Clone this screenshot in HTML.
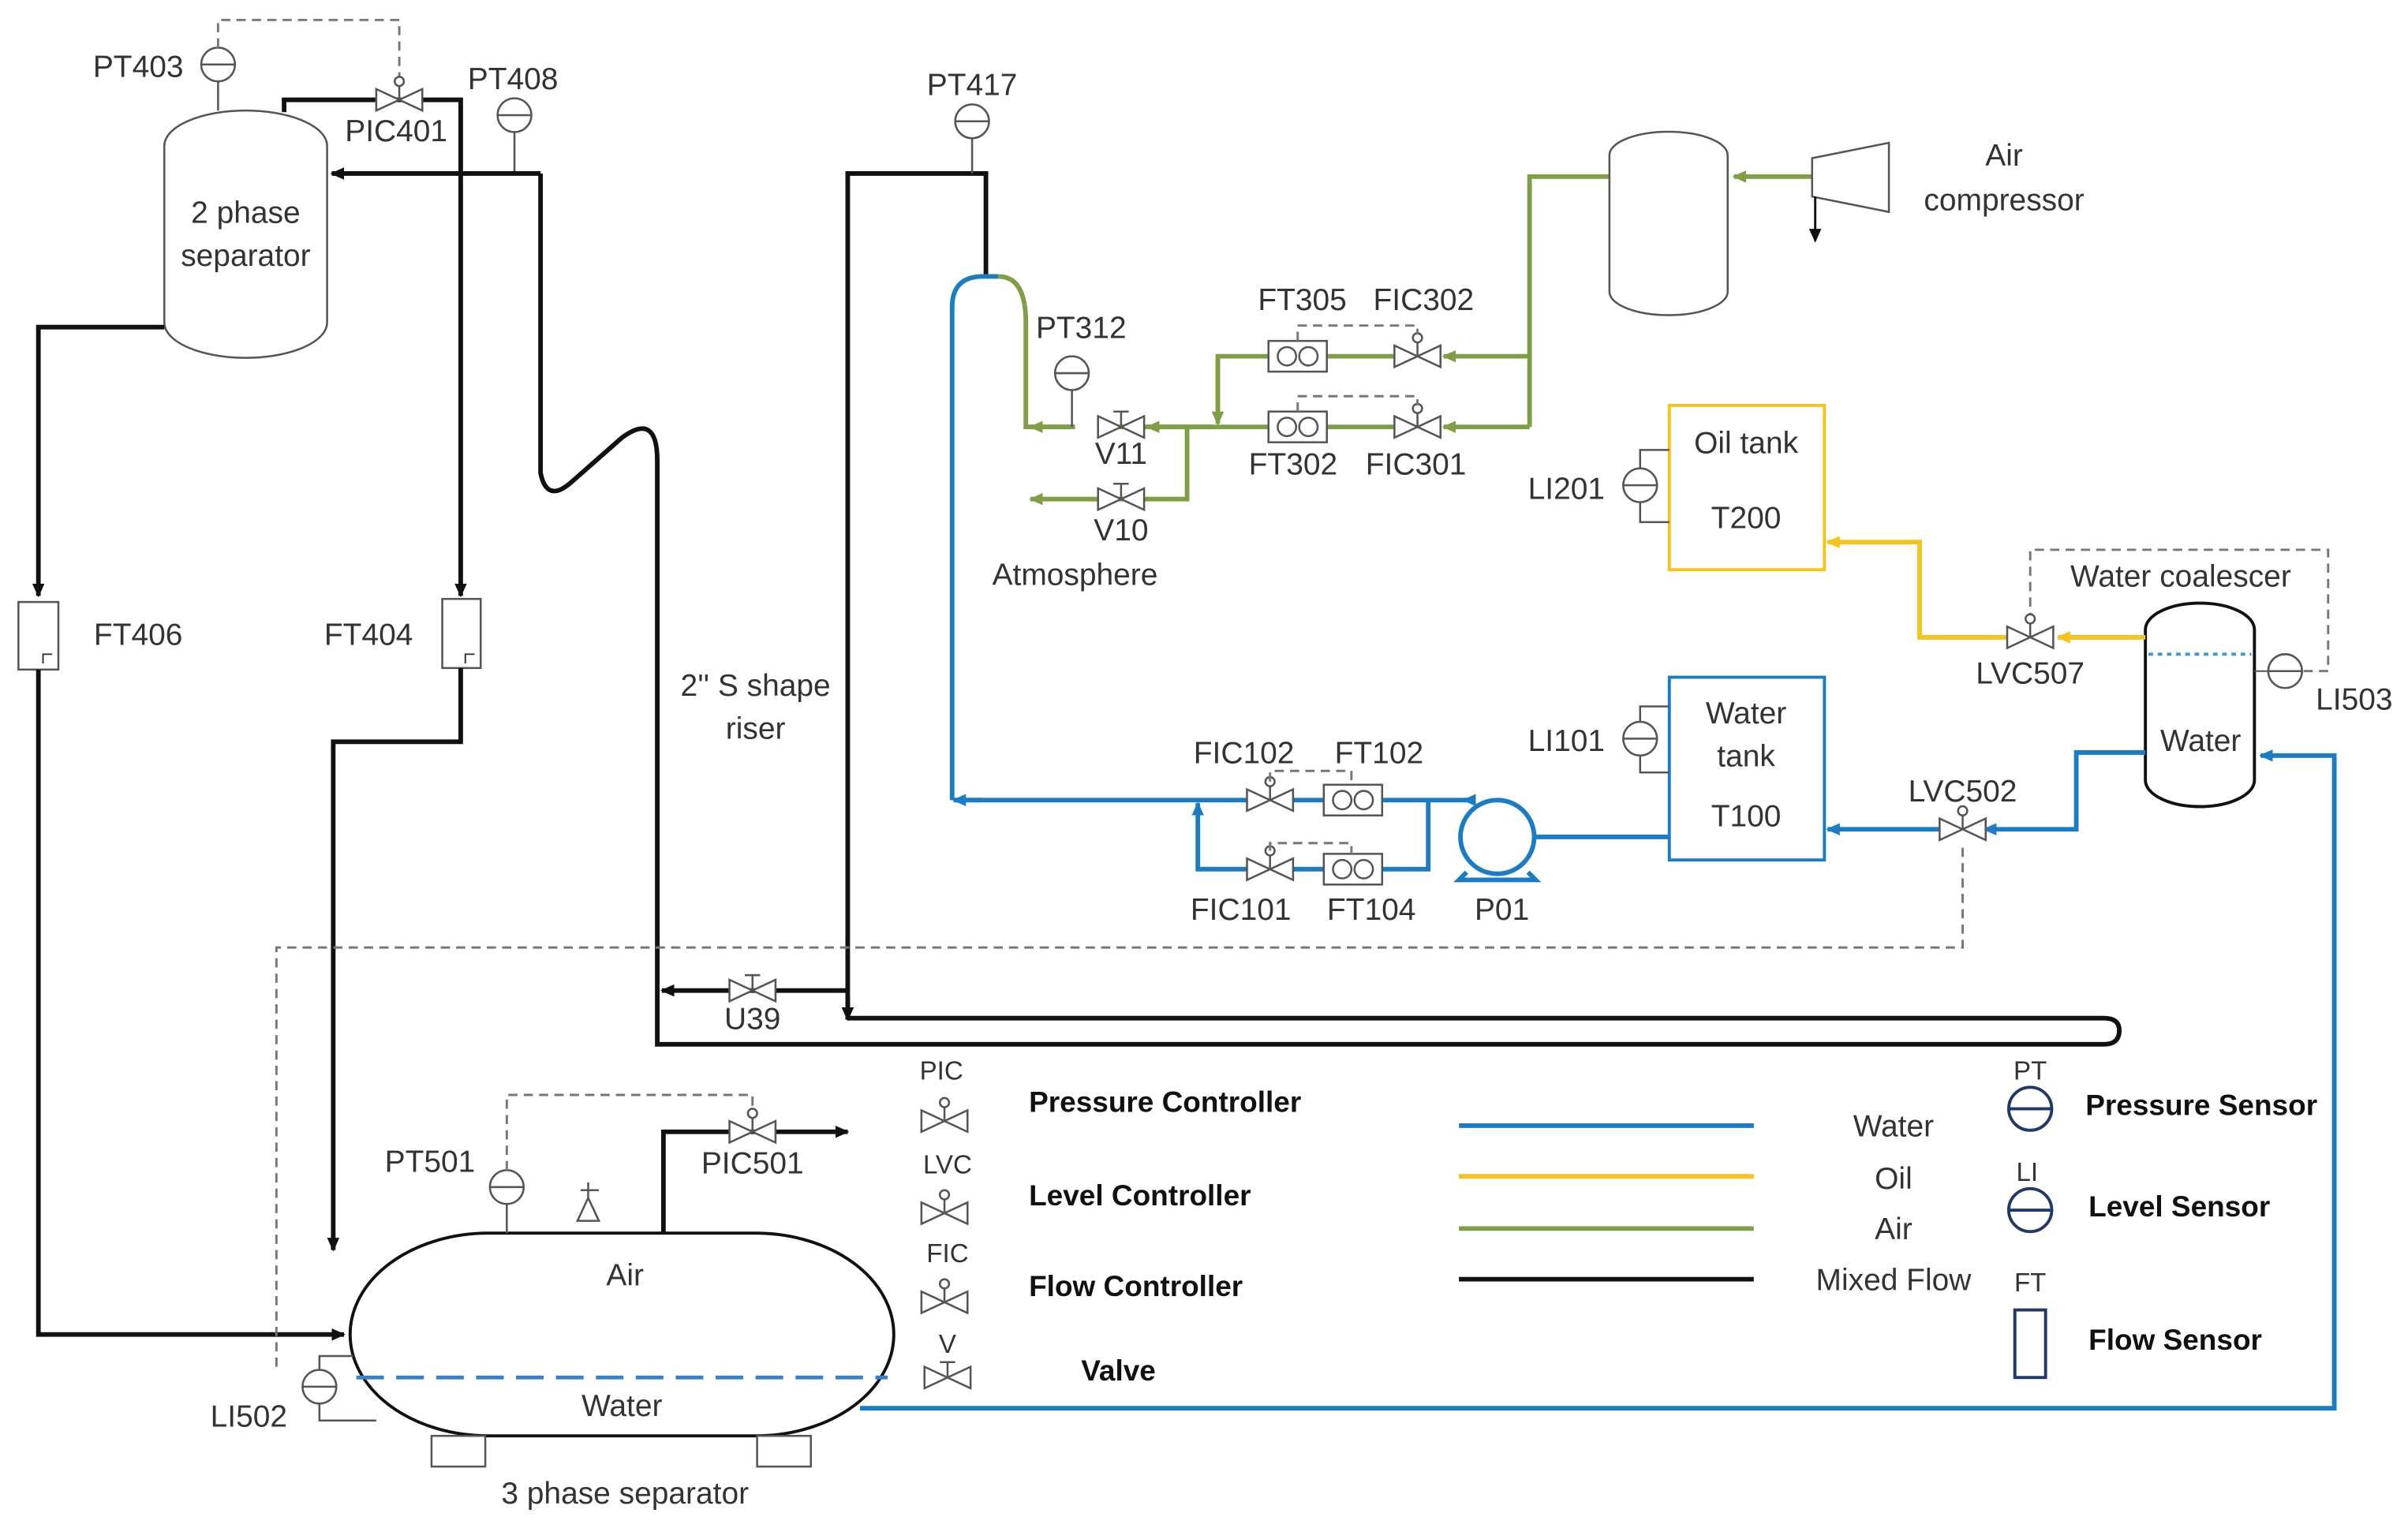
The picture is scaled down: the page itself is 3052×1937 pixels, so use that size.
<!DOCTYPE html>
<html><head><meta charset="utf-8"><style>
html,body{margin:0;padding:0;background:#fff;}
svg{display:block}
text{font-family:"Liberation Sans",sans-serif;font-size:20px;fill:#333;text-anchor:middle;}
.b{font-weight:bold;fill:#111;text-anchor:start;font-size:19px}
.k{fill:none;stroke:#111;stroke-width:3}
.bl{fill:none;stroke:#1a7cc4;stroke-width:3}
.y{fill:none;stroke:#f5c31c;stroke-width:3}
.g{fill:none;stroke:#7f9e46;stroke-width:3}
.d{fill:none;stroke:#777;stroke-width:1.5;stroke-dasharray:6 4}
.th{fill:#fff;stroke:#555;stroke-width:1.3}
</style></head><body>
<svg width="3052" height="1937" viewBox="0 0 1568 995" preserveAspectRatio="none" xmlns="http://www.w3.org/2000/svg">
<defs>
<marker id="ak" markerWidth="10" markerHeight="10" refX="8" refY="5" orient="auto" markerUnits="userSpaceOnUse"><path d="M0,1 L9,5 L0,9z" fill="#111"/></marker>
<marker id="ab" markerWidth="10" markerHeight="10" refX="8" refY="5" orient="auto" markerUnits="userSpaceOnUse"><path d="M0,1 L9,5 L0,9z" fill="#1a7cc4"/></marker>
<marker id="ay" markerWidth="10" markerHeight="10" refX="8" refY="5" orient="auto" markerUnits="userSpaceOnUse"><path d="M0,1 L9,5 L0,9z" fill="#f5c31c"/></marker>
<marker id="ag" markerWidth="10" markerHeight="10" refX="8" refY="5" orient="auto" markerUnits="userSpaceOnUse"><path d="M0,1 L9,5 L0,9z" fill="#7f9e46"/></marker>
<g id="v"><path d="M-15,-7 L15,7 L15,-7 L-15,7z" class="th"/></g>
<g id="cv"><path d="M-15,-7 L15,7 L15,-7 L-15,7z" class="th"/><line x1="0" y1="0" x2="0" y2="-10" stroke="#555" stroke-width="1.3"/><circle cx="0" cy="-12" r="3" class="th"/></g>
<g id="hv"><path d="M-15,-7 L15,7 L15,-7 L-15,7z" class="th"/><line x1="0" y1="0" x2="0" y2="-10" stroke="#555" stroke-width="1.3"/><line x1="-5" y1="-10" x2="5" y2="-10" stroke="#555" stroke-width="1.3"/></g>
<g id="s"><circle r="11" class="th"/><line x1="-11" y1="0" x2="11" y2="0" stroke="#555" stroke-width="1.3"/></g>
<g id="ft"><rect x="-19" y="-10" width="38" height="20" class="th"/><circle cx="-7" cy="0" r="6" class="th"/><circle cx="7" cy="0" r="6" class="th"/></g>
</defs>

<!-- 2 phase separator -->
<path d="M107,95 A53,23 0 0 1 213,95 L213,210 A53,23 0 0 1 107,210 Z" class="th"/>
<text x="160" y="145">2 phase</text><text x="160" y="173">separator</text>
<line x1="142" y1="53" x2="142" y2="72" stroke="#555" stroke-width="1.3"/>
<use href="#s" x="142" y="42"/><text x="90" y="50">PT403</text>
<path d="M142,31 L142,13 L260,13 L260,52" class="d"/>
<path d="M185,73 L185,65 L300,65 L300,388" class="k" marker-end="url(#ak)"/>
<use href="#cv" x="260" y="65"/><text x="258" y="92">PIC401</text>
<use href="#s" x="335" y="75"/><line x1="335" y1="86" x2="335" y2="113" stroke="#555" stroke-width="1.3"/><text x="334" y="58">PT408</text>
<path d="M107,213 L25,213 L25,388" class="k" marker-end="url(#ak)"/>
<rect x="12" y="392" width="26" height="44" class="th"/><path d="M28,432 L28,426 L34,426" stroke="#333" fill="none"/>
<text x="90" y="420">FT406</text>
<rect x="288" y="390" width="25" height="45" class="th"/><path d="M303,432 L303,426 L309,426" stroke="#333" fill="none"/>
<text x="240" y="420">FT404</text>
<path d="M25,436 L25,869 L224,869" class="k" marker-end="url(#ak)"/>
<path d="M300,435 L300,483 L217,483 L217,814" class="k" marker-end="url(#ak)"/>
<path d="M352,113 L216,113" class="k" marker-end="url(#ak)"/>
<path d="M352,113 L352,308 Q356,328 372,314 L405,285 Q428,268 428,300 L428,680 L1370,680 Q1380,680 1380,671 Q1380,663 1370,663 L552,663" class="k"/>
<path d="M552,650 L552,664" class="k" marker-end="url(#ak)"/>
<path d="M552,663 L552,113 L642,113 L642,180" class="k"/>
<path d="M552,645 L431,645" class="k" marker-end="url(#ak)"/>
<use href="#hv" x="490" y="645"/><text x="490" y="670">U39</text>
<text x="492" y="453">2'' S shape</text><text x="492" y="481">riser</text>
<use href="#s" x="633" y="79"/><line x1="633" y1="90" x2="633" y2="113" stroke="#555" stroke-width="1.3"/><text x="633" y="62">PT417</text>

<!-- 3 phase separator -->
<path d="M318,803 L492,803 A90,66 0 0 1 492,935 L318,935 A90,66 0 0 1 318,803 Z" fill="#fff" stroke="#111" stroke-width="2"/>
<rect x="281" y="935" width="35" height="20" class="th"/><rect x="493" y="935" width="35" height="20" class="th"/>
<line x1="232" y1="897" x2="578" y2="897" stroke="#3a80c8" stroke-width="2.5" stroke-dasharray="18 8"/>
<text x="407" y="837">Air</text><text x="405" y="922">Water</text><text x="407" y="979">3 phase separator</text>
<use href="#s" x="330" y="773"/><line x1="330" y1="784" x2="330" y2="803" stroke="#555" stroke-width="1.3"/><text x="280" y="763">PT501</text>
<path d="M330,762 L330,713 L490,713 L490,722" class="d"/>
<path d="M432,803 L432,737 L552,737" class="k" marker-end="url(#ak)"/>
<use href="#cv" x="490" y="737"/><text x="490" y="764">PIC501</text>
<path d="M376,795 L390,795 L383,780z M383,780 L383,770 M378,775 L390,775" class="th"/>
<use href="#s" x="208" y="903"/><path d="M208,892 L208,883 L230,883 M208,914 L208,925 L245,925" stroke="#555" stroke-width="1.3" fill="none"/>
<text x="162" y="929">LI502</text>
<path d="M180,890 L180,617 L1278,617 L1278,552" class="d"/>
<path d="M560,917 L1520,917 L1520,492 L1472,492" class="bl" marker-end="url(#ab)"/>

<!-- Water coalescer -->
<path d="M1397,410 A35,17 0 0 1 1468,410 L1468,508 A35,17 0 0 1 1397,508 Z" fill="#fff" stroke="#111" stroke-width="2"/>
<line x1="1399" y1="426" x2="1466" y2="426" stroke="#3a9ad8" stroke-width="2" stroke-dasharray="3 3"/>
<text x="1433" y="489">Water</text>
<path d="M1322,405 L1322,358 L1516,358 L1516,437 L1500,437" class="d"/>
<text x="1420" y="382">Water coalescer</text>
<use href="#s" x="1488" y="437"/><path d="M1477,437 L1468,437" stroke="#555"/><text x="1533" y="462">LI503</text>
<path d="M1397,415 L1340,415" class="y" marker-end="url(#ay)"/>
<path d="M1310,415 L1250,415 L1250,353 L1190,353" class="y" marker-end="url(#ay)"/>
<use href="#cv" x="1322" y="415"/><text x="1322" y="445">LVC507</text>
<rect x="1087" y="264" width="101" height="107" fill="#fff" stroke="#f5c31c" stroke-width="2"/>
<text x="1137" y="295">Oil tank</text><text x="1137" y="344">T200</text>
<use href="#s" x="1068" y="316"/><path d="M1068,305 L1068,293 L1087,293 M1068,327 L1068,340 L1087,340" stroke="#555" stroke-width="1.3" fill="none"/><text x="1020" y="325">LI201</text>
<rect x="1087" y="441" width="101" height="119" fill="#fff" stroke="#1a7cc4" stroke-width="2"/>
<text x="1137" y="471">Water</text><text x="1137" y="499">tank</text><text x="1137" y="538">T100</text>
<use href="#s" x="1068" y="481"/><path d="M1068,470 L1068,460 L1087,460 M1068,492 L1068,503 L1087,503" stroke="#555" stroke-width="1.3" fill="none"/><text x="1020" y="489">LI101</text>
<path d="M1397,490 L1352,490 L1352,540 L1292,540" class="bl" marker-end="url(#ab)"/>
<path d="M1264,540 L1190,540" class="bl" marker-end="url(#ab)"/>
<use href="#cv" x="1278" y="540"/><text x="1278" y="522">LVC502</text>
<path d="M1087,545 L987,545" class="bl" marker-end="url(#ab)"/>
<circle cx="975" cy="545" r="24" fill="#fff" stroke="#1a7cc4" stroke-width="3"/>
<path d="M955,568 L950,573 L1000,573 L995,568" fill="none" stroke="#1a7cc4" stroke-width="3"/>
<text x="978" y="599">P01</text>
<path d="M958,521 L900,521 M862,521 L842,521 M812,521 L621,521" class="bl"/>
<path d="M640,521 L621,521" class="bl" marker-end="url(#ab)"/>
<path d="M930,521 L930,566 L900,566 M862,566 L842,566 M812,566 L780,566 L780,523" class="bl" marker-end="url(#ab)"/>
<path d="M958,521 L953,521" class="bl" marker-end="url(#ab)"/>
<use href="#ft" x="881" y="521"/><use href="#cv" x="827" y="521"/>
<use href="#ft" x="881" y="566"/><use href="#cv" x="827" y="566"/>
<path d="M827,509 L827,502 L880,502 L880,511" class="d"/>
<path d="M827,554 L827,549 L880,549 L880,556" class="d"/>
<text x="810" y="497">FIC102</text><text x="898" y="497">FT102</text>
<text x="808" y="599">FIC101</text><text x="893" y="599">FT104</text>
<path d="M620,521 L620,200 Q620,180 640,180 L650,180" class="bl"/>
<path d="M650,180 Q668,180 668,210 L668,278 L700,278" class="g"/>
<path d="M700,278 L671,278" class="g" marker-end="url(#ag)"/>
<use href="#s" x="698" y="243"/><line x1="698" y1="254" x2="698" y2="278" stroke="#555" stroke-width="1.3"/><text x="704" y="220">PT312</text>
<path d="M790,278 L715,278" class="g"/>
<use href="#hv" x="730" y="278"/><text x="730" y="302">V11</text>
<path d="M773,278 L773,325 L671,325" class="g" marker-end="url(#ag)"/>
<use href="#hv" x="730" y="325"/><text x="730" y="352">V10</text>
<text x="700" y="381">Atmosphere</text>
<path d="M996,278 L940,278" class="g" marker-end="url(#ag)"/>
<path d="M908,278 L864,278 M826,278 L747,278" class="g" marker-end="url(#ag)"/>
<path d="M996,232 L940,232" class="g" marker-end="url(#ag)"/>
<path d="M908,232 L864,232 M826,232 L793,232 L793,276" class="g" marker-end="url(#ag)"/>
<path d="M996,278 L996,115 L1048,115" class="g"/>
<use href="#ft" x="845" y="232"/><use href="#cv" x="923" y="232"/>
<use href="#ft" x="845" y="278"/><use href="#cv" x="923" y="278"/>
<path d="M845,222 L845,212 L923,212 L923,218" class="d"/>
<path d="M845,268 L845,258 L923,258 L923,264" class="d"/>
<text x="848" y="202">FT305</text><text x="927" y="202">FIC302</text>
<text x="842" y="309">FT302</text><text x="922" y="309">FIC301</text>
<path d="M1048,101 A38,15 0 0 1 1125,101 L1125,190 A38,15 0 0 1 1048,190 Z" class="th"/>
<path d="M1180,115 L1129,115" class="g" marker-end="url(#ag)"/>
<path d="M1180,103 L1230,93 L1230,138 L1180,128 Z" class="th"/>
<path d="M1182,128 L1182,157" stroke="#111" stroke-width="1.5" marker-end="url(#ak)"/>
<text x="1305" y="108">Air</text><text x="1305" y="137">compressor</text>

<!-- Legend -->
<text x="613" y="703" style="font-size:17px">PIC</text><use href="#cv" x="615" y="730"/><text class="b" x="670" y="724">Pressure Controller</text>
<text x="617" y="764" style="font-size:17px">LVC</text><use href="#cv" x="615" y="790"/><text class="b" x="670" y="785">Level Controller</text>
<text x="617" y="822" style="font-size:17px">FIC</text><use href="#cv" x="615" y="848"/><text class="b" x="670" y="844">Flow Controller</text>
<text x="617" y="881" style="font-size:17px">V</text><use href="#hv" x="617" y="897"/><text class="b" x="704" y="899">Valve</text>
<line x1="950" y1="733" x2="1142" y2="733" class="bl"/><text x="1233" y="740">Water</text>
<line x1="950" y1="766" x2="1142" y2="766" class="y"/><text x="1233" y="774">Oil</text>
<line x1="950" y1="800" x2="1142" y2="800" class="g"/><text x="1233" y="807">Air</text>
<line x1="950" y1="833" x2="1142" y2="833" class="k"/><text x="1233" y="840">Mixed Flow</text>
<text x="1322" y="703" style="font-size:17px">PT</text>
<circle cx="1322" cy="722" r="14" fill="#fff" stroke="#1f3a6a" stroke-width="2"/><line x1="1308" y1="722" x2="1336" y2="722" stroke="#1f3a6a" stroke-width="2"/>
<text class="b" x="1358" y="726">Pressure Sensor</text>
<text x="1320" y="769" style="font-size:17px">LI</text>
<circle cx="1322" cy="788" r="14" fill="#fff" stroke="#1f3a6a" stroke-width="2"/><line x1="1308" y1="788" x2="1336" y2="788" stroke="#1f3a6a" stroke-width="2"/>
<text class="b" x="1360" y="792">Level Sensor</text>
<text x="1322" y="841" style="font-size:17px">FT</text>
<rect x="1312" y="853" width="20" height="44" fill="#fff" stroke="#1f3a6a" stroke-width="2"/>
<text class="b" x="1360" y="879">Flow Sensor</text>
</svg>
</body></html>
